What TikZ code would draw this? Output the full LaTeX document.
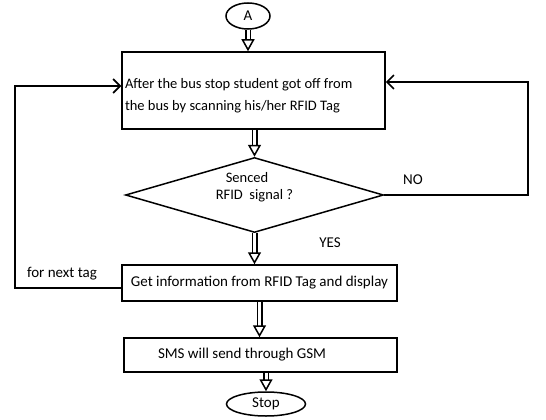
\documentclass[tikz,border=0pt]{standalone}
\usepackage{fontspec}
\setmainfont{Carlito}
\usetikzlibrary{arrows.meta,shapes.geometric}
\begin{document}
\begin{tikzpicture}[x=1pt,y=-1pt,
  font=\fontsize{15}{17}\selectfont,
  blk/.style={draw, line width=1.5pt, rectangle, inner ysep=0pt},
  oval/.style={draw, ellipse, line width=1.5pt, inner sep=0pt},
  bigarrow/.style={line width=1.5pt, double, double distance=3pt,
    -{Triangle[open,length=12pt,width=13pt,line width=1.5pt]}},
  link/.style={line width=1.6pt},
  linkarrow/.style={line width=1.6pt, -{Straight Barb[length=7pt,width=14pt]}},
  lbl/.style={inner sep=0pt}
  ]
\useasboundingbox (0,0) rectangle (546,420);
\fill[white] (0,0) rectangle (546,420);

\node[oval, minimum width=44pt, minimum height=26pt] (A) at (248,16) {A};
\node[blk, minimum width=263pt, minimum height=77pt, text width=257pt,
      inner xsep=3pt, align=flush left, text depth=14pt,
      font=\fontsize{14.5}{22}\selectfont] (B1) at (253.5,90.5)
      {After the bus stop student got off from\\the bus by scanning his/her RFID Tag};
\node[draw, diamond, aspect=3.44, line width=1.5pt, minimum width=258pt, minimum height=75pt,
      inner sep=0pt, align=left, text depth=18pt, font=\fontsize{14.5}{17}\selectfont] (D) at (254.5,195)
      {\hspace*{10pt}Senced\\RFID\ \ signal ?};
\node[blk, minimum width=275pt, minimum height=36pt] (B3) at (259.5,283)
      {Get information from RFID Tag and display};
\node[blk, minimum width=273pt, minimum height=34pt, text width=205pt,
      inner xsep=34pt, align=flush left] (B4) at (260.5,355)
      {SMS will send through GSM};
\node[oval, minimum width=79pt, minimum height=24pt] (S) at (266,404) {Stop};

\node[lbl] (NO) at (413,180) {NO};
\node[lbl] (YES) at (330,243) {YES};
\node[lbl] (NT) at (62,274) {for next tag};

\coordinate (r1) at (528,195);
\coordinate (r2) at (528,82);
\coordinate (l1) at (15,288);
\coordinate (l2) at (15,86);

\draw[bigarrow] (A.south) -- (A.south |- B1.north);
\draw[bigarrow] (D.north |- B1.south) -- (D.north);
\draw[bigarrow] (D.south) -- (D.south |- B3.north);
\draw[bigarrow] (B3.south) -- (B3.south |- B4.north);
\draw[bigarrow] (S.north |- B4.south) -- (S.north);

\draw[linkarrow] (D.east) -- (r1) -- (r2) -- (r2 -| B1.east);
\draw[linkarrow] (l1 -| B3.west) -- (l1) -- (l2) -- (l2 -| B1.west);
\end{tikzpicture}
\end{document}
